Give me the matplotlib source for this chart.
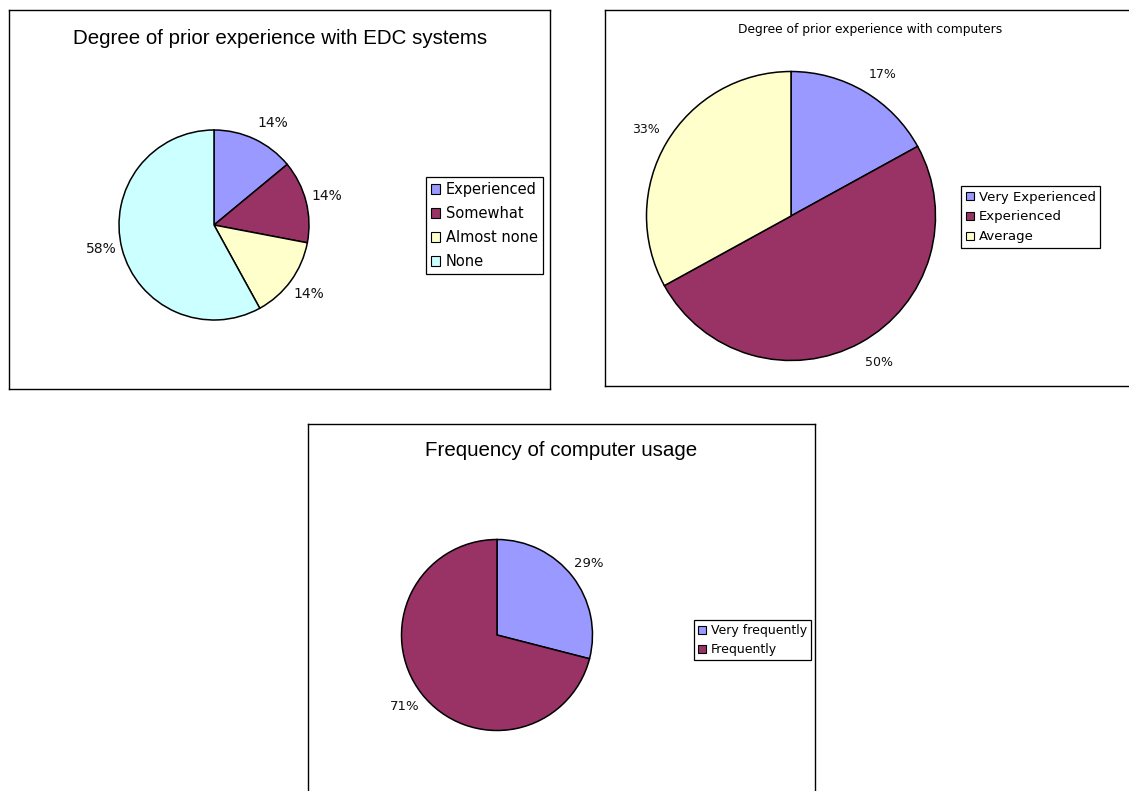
import matplotlib
matplotlib.use("Agg")
import matplotlib.pyplot as plt
from matplotlib.patches import Patch
import numpy as np

# ---- data ----
edc_labels = ["Experienced", "Somewhat", "Almost none", "None"]
edc_values = [14, 14, 14, 58]

comp_labels = ["Very Experienced", "Experienced", "Average"]
comp_values = [17, 50, 33]

freq_labels = ["Very frequently", "Frequently"]
freq_values = [29, 71]

titles = ["Degree of prior experience with EDC systems",
          "Degree of prior experience with computers",
          "Frequency of computer usage"]

palette = ["#9999FF", "#993366", "#FFFFCC", "#CCFFFF"]

W, H = 1129, 791
fig = plt.figure(figsize=(W / 100, H / 100), dpi=100)
fig.patch.set_facecolor("white")


def panel(box, values, labels, title, title_style, center, radius,
          pctdist, label_size, legend_corner, legend_size, legend_spacing,
          label_override=None):
    x0, y0, x1, y1 = box
    w, h = x1 - x0, y1 - y0
    ax = fig.add_axes([x0 / W, 1 - y1 / H, w / W, h / H])
    cx, cy = center[0] - x0, y1 - center[1]
    colors = palette[:len(values)]
    wedges, _, autotexts = ax.pie(
        values, colors=colors, startangle=90, counterclock=False,
        center=(cx, cy), radius=radius, frame=True,
        autopct=lambda p: f"{p:.0f}%", pctdistance=pctdist,
        wedgeprops=dict(edgecolor="black", linewidth=1.1),
        textprops=dict(fontsize=label_size, family="DejaVu Sans",
                       color="#111111"))
    if label_override:
        for i, (ang, dist) in label_override.items():
            a = np.deg2rad(90 - ang)
            autotexts[i].set_position((cx + dist * radius * np.cos(a),
                                       cy + dist * radius * np.sin(a)))
    ax.set_aspect("auto")
    ax.set_xlim(0, w)
    ax.set_ylim(0, h)
    ax.set_xticks([])
    ax.set_yticks([])
    for s in ax.spines.values():
        s.set_color("black")
        s.set_linewidth(1.0)

    tx, ty, tfam, tsize = title_style
    ax.text(tx - x0, y1 - ty, title, ha="center", va="center",
            family=tfam, fontsize=tsize, color="black")

    handles = [Patch(facecolor=c, edgecolor="black", linewidth=0.8)
               for c in colors]
    lx, ly = legend_corner
    leg = ax.legend(handles, labels, loc="upper left",
                    bbox_to_anchor=(lx - x0, y1 - ly),
                    bbox_transform=ax.transData,
                    prop=dict(family="DejaVu Sans", size=legend_size),
                    frameon=True, fancybox=False, shadow=False,
                    framealpha=1, edgecolor="black",
                    handlelength=0.6, handleheight=0.6,
                    handletextpad=0.4, labelspacing=legend_spacing,
                    borderpad=0.35, borderaxespad=0)
    leg.get_frame().set_linewidth(0.9)
    return ax


panel((9, 10, 550, 389), edc_values, edc_labels, titles[0],
      (280, 38, "Liberation Sans", 14.8), (214, 225), 95, 1.23, 10,
      (426, 177), 10.5, 0.62,
      label_override={0: (30, 1.24), 3: (258, 1.21)})

panel((605, 10, 1140, 386), comp_values, comp_labels, titles[1],
      (870, 29, "DejaVu Sans", 8.8), (791, 216), 144.5, 1.17, 9,
      (961, 186), 9.5, 0.52,
      label_override={0: (33, 1.17), 1: (149, 1.18)})

panel((308, 424, 815, 800), freq_values, freq_labels, titles[2],
      (561, 451, "Liberation Sans", 14.8), (497, 635), 95.5, 1.22, 9.5,
      (694, 620), 9, 0.45)

fig.savefig("out.png", dpi=100, facecolor="white")
